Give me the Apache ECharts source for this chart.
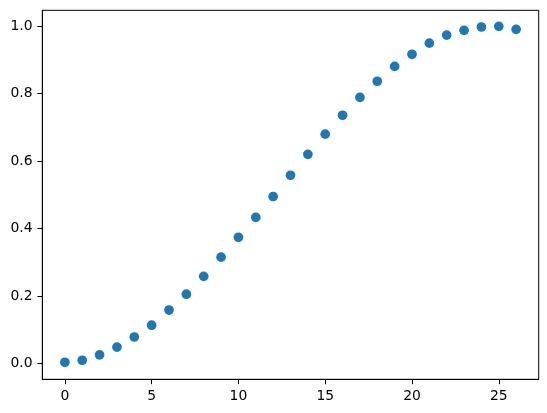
<!DOCTYPE html>
<html>
<head>
<meta charset="utf-8">
<script src="https://cdn.jsdelivr.net/npm/echarts@6/dist/echarts.min.js"></script>
<style>
html,body{margin:0;padding:0;background:#fff;}
#chart{width:547px;height:413px;}
</style>
</head>
<body>
<div id="chart"></div>
<script>
const xValues = [0,1,2,3,4,5,6,7,8,9,10,11,12,13,14,15,16,17,18,19,20,21,22,23,24,25,26];
const yValues = [0.003,0.009,0.025,0.048,0.078,0.113,0.158,0.205,0.258,0.315,0.374,0.433,0.495,0.558,0.620,0.680,0.736,0.789,0.837,0.881,0.917,0.950,0.974,0.988,0.998,1.000,0.991];
const xTicks = [0,5,10,15,20,25];
const yTicks = [0.0,0.2,0.4,0.6,0.8,1.0];

const chart = echarts.init(document.getElementById('chart'), null, {renderer:'canvas'});
const font = {fontFamily:'DejaVu Sans', fontSize:13.9, color:'#000'};
chart.setOption({
  animation:false,
  backgroundColor:'#fff',
  grid:{left:42.3, top:10.3, width:496.4, height:369, show:true, borderColor:'#000', borderWidth:1, backgroundColor:'transparent'},
  xAxis:{
    type:'value', min:-1.3, max:27.3,
    axisLine:{show:true, onZero:false, lineStyle:{color:'#000', width:1}},
    axisTick:{show:true, inside:false, customValues:xTicks, length:4.9, lineStyle:{color:'#000', width:1}},
    axisLabel:Object.assign({customValues:xTicks, margin:9.7, formatter:v=>String(v)}, font),
    splitLine:{show:false}
  },
  yAxis:{
    type:'value', min:-0.0475, max:1.0475,
    axisLine:{show:true, onZero:false, lineStyle:{color:'#000', width:1}},
    axisTick:{show:true, inside:false, customValues:yTicks, length:4.9, lineStyle:{color:'#000', width:1}},
    axisLabel:Object.assign({customValues:yTicks, margin:9.7, formatter:v=>v.toFixed(1)}, font),
    splitLine:{show:false}
  },
  series:[{
    type:'scatter',
    data:xValues.map((x,i)=>[x,yValues[i]]),
    symbol:'circle',
    symbolSize:9.7,
    itemStyle:{color:'#1f77b4', opacity:1}
  }]
});
</script>
</body>
</html>
